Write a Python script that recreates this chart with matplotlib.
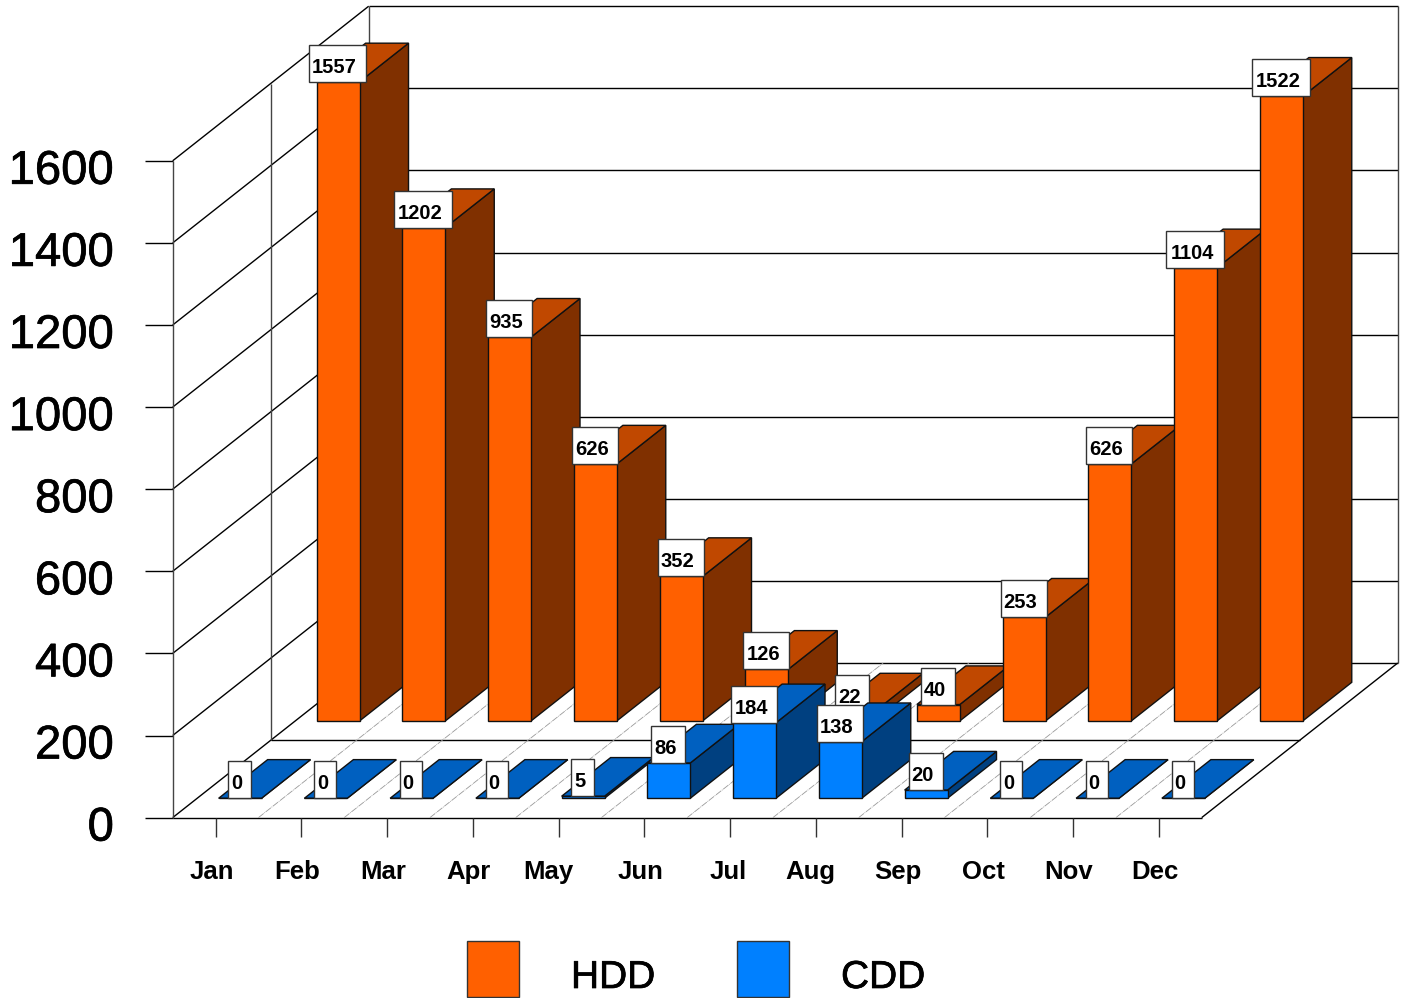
import matplotlib
matplotlib.use("Agg")
import matplotlib.pyplot as plt
import matplotlib.patheffects as pe
from matplotlib.patches import Polygon, Rectangle

plt.rcParams['font.family'] = ['Liberation Sans', 'DejaVu Sans']

# Datos
meses = ["Jan", "Feb", "Mar", "Apr", "May", "Jun", "Jul", "Aug", "Sep", "Oct", "Nov", "Dec"]
hdd = [1557, 1202, 935, 626, 352, 126, 22, 40, 253, 626, 1104, 1522]
cdd = [0, 0, 0, 0, 5, 86, 184, 138, 20, 0, 0, 0]
y_ticks = [0, 200, 400, 600, 800, 1000, 1200, 1400, 1600]

# Colores: frente, lado, arriba
naranja = ("#FF6000", "#803000", "#C04800")
azul = ("#0080FF", "#004080", "#0060C0")

# Proyeccion oblicua (mes, profundidad, valor) -> pixeles
X0, Y0 = 172.7, 817.6
PASO_MES = 85.75
DX, DY = 98, 77.3
ESCALA = 0.4105


def proy(m, d, v=0):
    return (X0 + m * PASO_MES + d * DX, Y0 - v * ESCALA - d * DY)


fig = plt.figure(figsize=(14.03, 9.98), dpi=100)
ax = fig.add_axes([0, 0, 1, 1])
ax.set_xlim(0, 1403)
ax.set_ylim(998, 0)
ax.axis("off")

LW = 1.0
grueso = [pe.withStroke(linewidth=0.5, foreground="black")]


def linea(a, b, color="black", lw=LW, ls="-", z=1):
    ax.plot([a[0], b[0]], [a[1], b[1]], color=color, lw=lw, ls=ls, zorder=z, solid_capstyle="butt")


# Paredes y rejilla
for v in y_ticks:
    izq = proy(0, 0, v)
    linea((izq[0] - 28, izq[1]), izq)
    linea(izq, proy(0, 2, v))
    linea(proy(0, 2, v), proy(12, 2, v))
    ax.text(114, izq[1] + 11, str(v), ha="right", va="center", fontsize=34, color="black",
            path_effects=grueso)

linea(proy(0, 0, 0), proy(0, 0, 1600), color="#444444")
linea(proy(0, 1, 0), proy(0, 1, 1600), color="#444444")
linea(proy(0, 2, 0), proy(0, 2, 1600), color="#444444")
linea(proy(12, 2, 0), proy(12, 2, 1600), color="#444444")

# Piso
linea(proy(0, 0), proy(12, 0))
linea(proy(0, 1), proy(12, 1))
linea(proy(12, 0), proy(12, 2))
for m in range(1, 12):
    linea(proy(m, 0), proy(m, 2), color="#999999", lw=0.6, ls=(0, (8, 1, 1, 1)))

# Marcas y etiquetas de meses (May y Jul van un poco corridos en el original)
corrido = {"May": -10, "Jul": -2, "Aug": -5}
for i, mes in enumerate(meses):
    p = proy(i + 0.5, 0)
    linea(p, (p[0], p[1] + 19), color="#333333")
    ax.text(p[0] + corrido.get(mes, -4), 872, mes, ha="center", va="center", fontsize=18.5,
            fontweight="bold", color="black")


def barra(i, d, v, colores, z):
    m0, m1 = i + 0.25, i + 0.75
    d0, d1 = d + 0.25, d + 0.75
    estilo = dict(edgecolor="#111111", lw=LW, joinstyle="miter", zorder=z)
    ax.add_patch(Polygon([proy(m1, d0, 0), proy(m1, d1, 0), proy(m1, d1, v), proy(m1, d0, v)],
                         facecolor=colores[1], **estilo))
    ax.add_patch(Polygon([proy(m0, d0, v), proy(m1, d0, v), proy(m1, d1, v), proy(m0, d1, v)],
                         facecolor=colores[2], **estilo))
    ax.add_patch(Polygon([proy(m0, d0, 0), proy(m1, d0, 0), proy(m1, d0, v), proy(m0, d0, v)],
                         facecolor=colores[0], **estilo))


def etiqueta(i, d, v, z):
    cx, base = proy(i + 0.5, d + 0.25, v)
    ancho = 10.5 + 11.8 * len(str(v))
    ax.add_patch(Rectangle((cx - ancho / 2 - 0.5, base - 37), ancho, 37, facecolor="white",
                           edgecolor="#333333", lw=LW, zorder=z))
    ax.text(cx - 3.5, base - 14.5, str(v), ha="center", va="center", fontsize=14.5,
            fontweight="bold", color="black", zorder=z + 1)


# Fila de atras (HDD) y despues la de adelante (CDD)
for i, v in enumerate(hdd):
    barra(i, 1, v, naranja, 10)
for i, v in enumerate(hdd):
    etiqueta(i, 1, v, 12)
for i, v in enumerate(cdd):
    barra(i, 0, v, azul, 20)
for i, v in enumerate(cdd):
    etiqueta(i, 0, v, 22)

# Leyenda
ax.add_patch(Rectangle((467, 941), 52, 56, facecolor=naranja[0], edgecolor="#333333", lw=LW))
ax.text(571, 978, "HDD", ha="left", va="center", fontsize=28, color="black", path_effects=grueso)
ax.add_patch(Rectangle((737, 941), 52, 56, facecolor=azul[0], edgecolor="#333333", lw=LW))
ax.text(841, 978, "CDD", ha="left", va="center", fontsize=28, color="black", path_effects=grueso)

fig.savefig("out.png", dpi=100, facecolor="white")
